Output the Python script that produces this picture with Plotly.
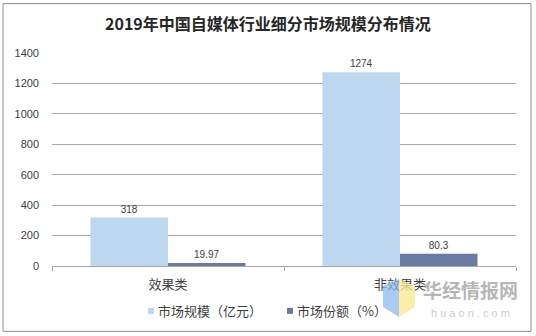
import plotly.graph_objects as go

# Segments and values
categories = ["效果类", "非效果类"]
market_size = [318, 1274]        # 市场规模（亿元）
market_share = [19.97, 80.3]     # 市场份额（%）
share_labels = ["19.97", "80.3"]
y_ticks = [0, 200, 400, 600, 800, 1000, 1200, 1400]
series_names = ["市场规模（亿元）", "市场份额（%）"]
series_colors = ["#BDD7EE", "#6B7AA1"]

W, H = 536, 336
ML, MR, MT, MB = 52, 20, 52.5, 70
PW, PH = W - ML - MR, H - MT - MB


def px(x):
    return (x - ML) / PW


def py(y):
    return (H - MB - y) / PH


FONT = "Liberation Sans, Noto Sans CJK SC, sans-serif"

fig = go.Figure()
fig.add_trace(go.Bar(
    x=categories, y=market_size, name=series_names[0],
    marker=dict(color=series_colors[0], line=dict(width=0)),
    text=[str(v) for v in market_size], textposition="outside",
    textfont=dict(size=10, color="#404040"), cliponaxis=False,
))
fig.add_trace(go.Bar(
    x=categories, y=market_share, name=series_names[1],
    marker=dict(color=series_colors[1], line=dict(width=0)),
    text=share_labels, textposition="outside",
    textfont=dict(size=10, color="#404040"), cliponaxis=False,
))

shapes = [
    # outer frame
    dict(type="rect", xref="paper", yref="paper",
         x0=px(3), x1=px(531), y0=py(331.5), y1=py(3),
         line=dict(color="#8C8C8C", width=1), fillcolor="rgba(0,0,0,0)", layer="below"),
    # logo panels
    dict(type="path", xref="paper", yref="paper",
         path=f"M {px(383)},{py(286)} L {px(399)},{py(279)} L {px(399)},{py(317)} L {px(383)},{py(307)} Z",
         fillcolor="rgba(140,185,240,0.75)", line=dict(width=0)),
    dict(type="path", xref="paper", yref="paper",
         path=f"M {px(399)},{py(279)} L {px(415)},{py(286)} L {px(415)},{py(307)} L {px(399)},{py(317)} Z",
         fillcolor="rgba(252,232,150,0.8)", line=dict(width=0)),
]

# compact legend: small square swatches with labels
legend_swatch_x = [148, 287]
legend_y = 311
for sx, col in zip(legend_swatch_x, series_colors):
    shapes.append(dict(type="rect", xref="paper", yref="paper",
                       x0=px(sx), x1=px(sx + 6), y0=py(legend_y + 3), y1=py(legend_y - 3),
                       fillcolor=col, line=dict(width=0)))

annotations = [
    dict(text="<b>2019年中国自媒体行业细分市场规模分布情况</b>", xref="paper", yref="paper",
         x=px(268), y=py(22), showarrow=False,
         font=dict(size=16, color="#262626", family="Noto Sans CJK SC"), xanchor="center", yanchor="middle"),
    dict(text="<b>华经情报网</b>", xref="paper", yref="paper",
         x=px(470), y=py(290), showarrow=False,
         font=dict(size=19, color="rgba(150,150,150,0.7)", family="Noto Sans CJK SC"),
         xanchor="center", yanchor="middle"),
    dict(text="h u a o n . c o m", xref="paper", yref="paper",
         x=px(470), y=py(313), showarrow=False,
         font=dict(size=11, color="rgba(190,190,190,0.8)", family="Liberation Sans"),
         xanchor="center", yanchor="middle"),
]
for sx, name in zip(legend_swatch_x, series_names):
    annotations.append(dict(text=name, xref="paper", yref="paper",
                            x=px(sx + 8), y=py(legend_y), showarrow=False,
                            xanchor="left", yanchor="middle",
                            font=dict(size=13, color="#404040", family="Noto Sans CJK SC")))

fig.update_layout(
    width=W, height=H,
    margin=dict(l=ML, r=MR, t=MT, b=MB),
    paper_bgcolor="white", plot_bgcolor="white",
    font=dict(family=FONT, color="#404040", size=11),
    barmode="group", bargap=0.332, bargroupgap=0,
    showlegend=False,
    shapes=shapes, annotations=annotations,
)
fig.update_xaxes(
    showline=True, linecolor="#A6A6A6", linewidth=1,
    ticks="outside", tickson="boundaries", ticklen=4, tickcolor="#A6A6A6",
    ticklabelstandoff=6,
    tickfont=dict(size=13, color="#404040", family="Noto Sans CJK SC"),
    showgrid=False,
)
fig.update_yaxes(
    range=[0, 1400], tickvals=y_ticks, showgrid=True, gridcolor="#A6A6A6", gridwidth=1,
    showline=False, zeroline=False, ticks="", ticklabelstandoff=12,
    tickfont=dict(size=11, color="#404040"),
)

fig.write_html("out.html")
